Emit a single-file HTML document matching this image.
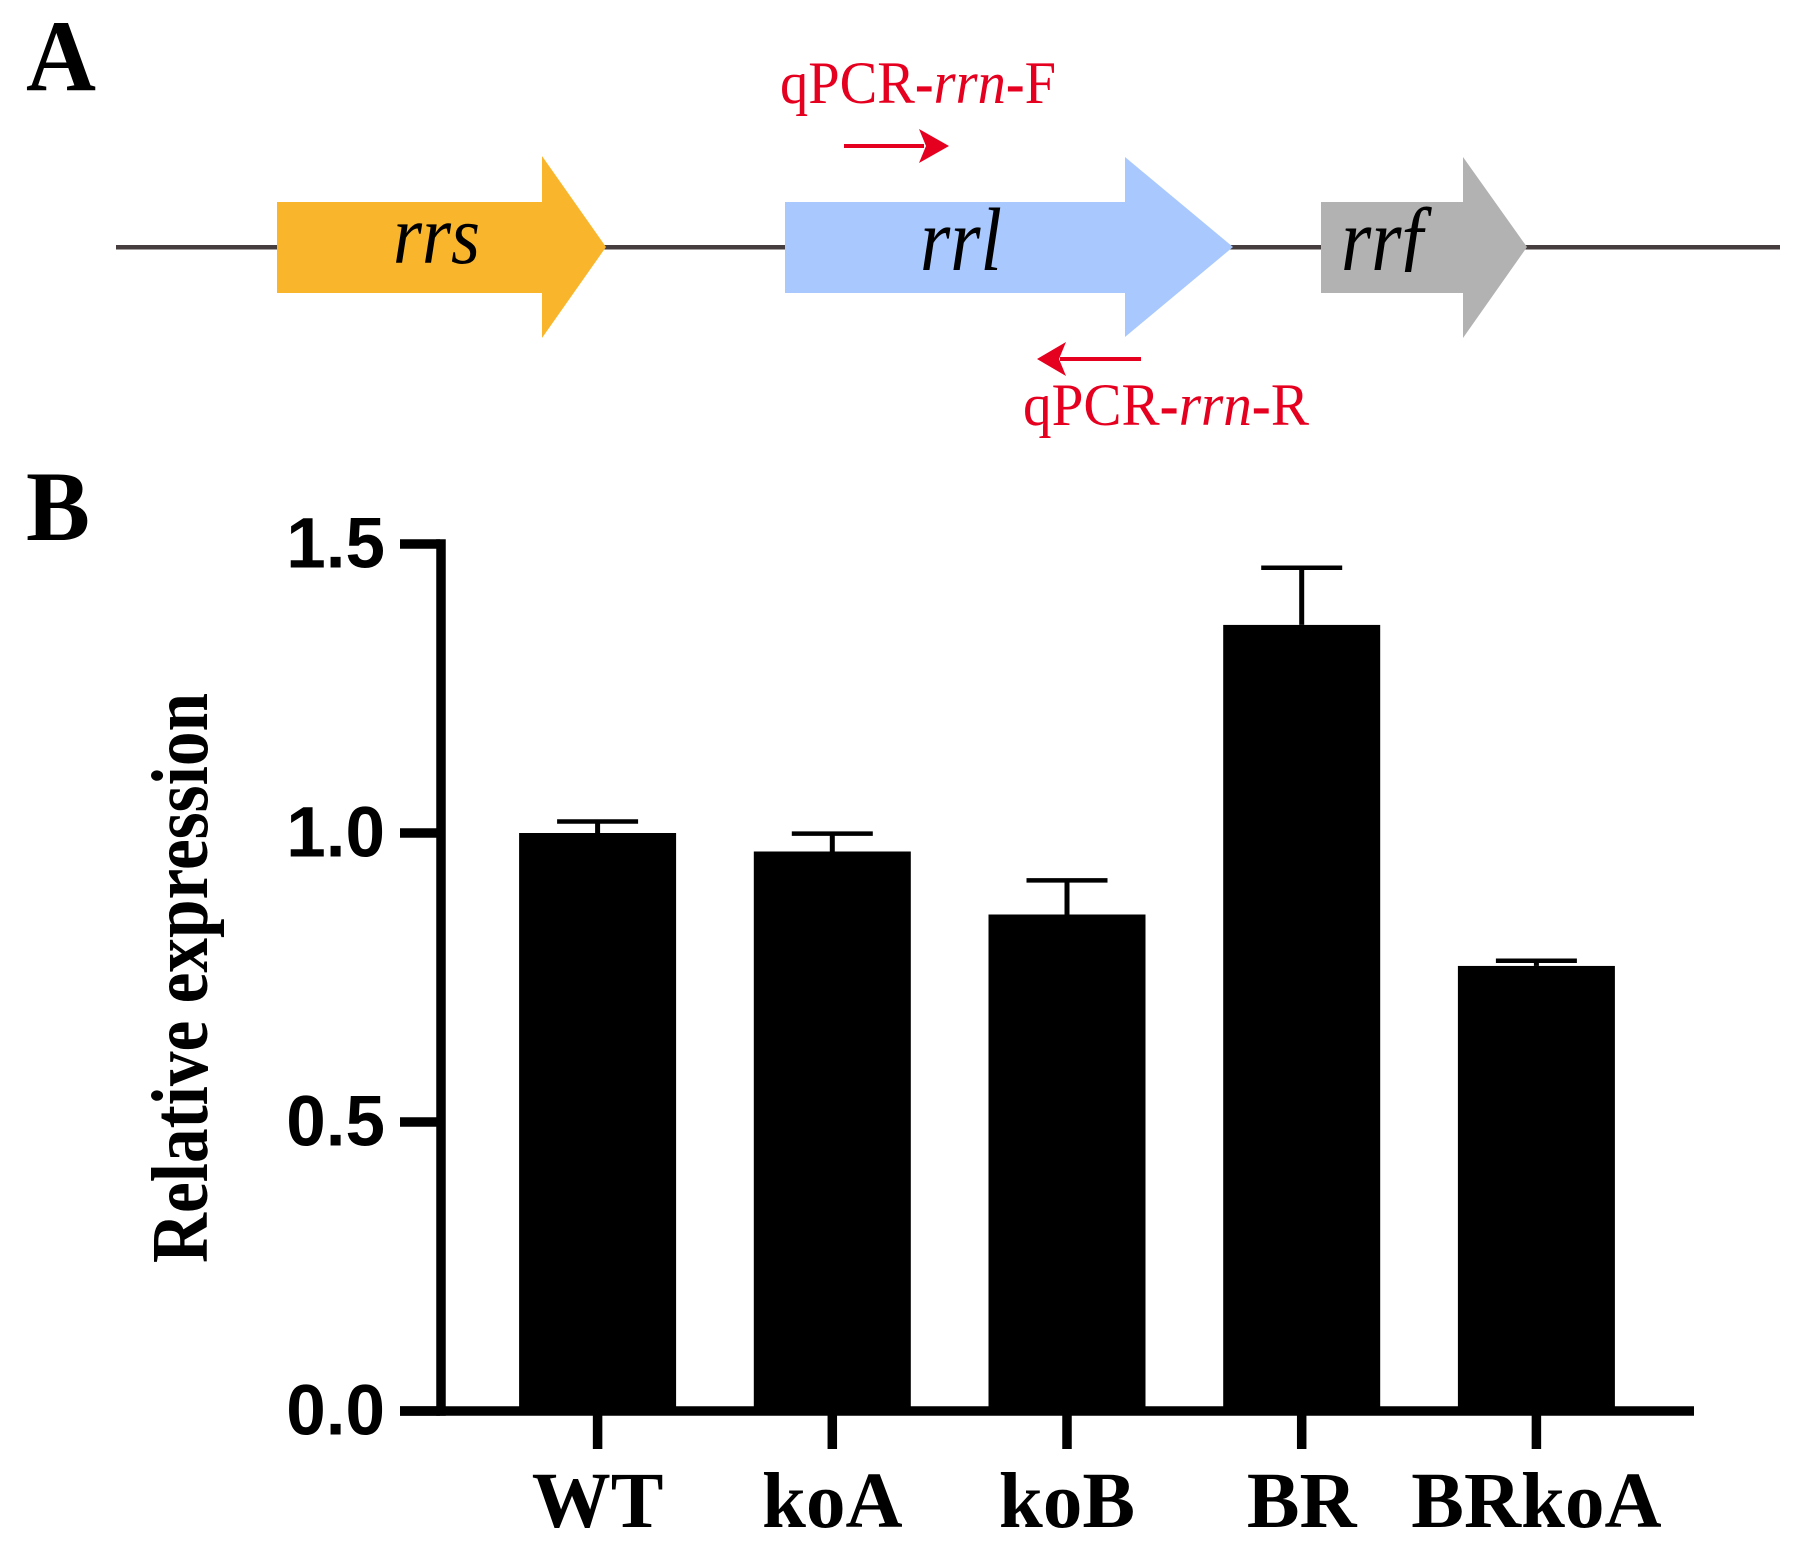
<!DOCTYPE html>
<html lang="en">
<head>
<meta charset="utf-8">
<title>rrn operon map and relative expression</title>
<style>
html,body{margin:0;padding:0;background:#fff;}
svg{display:block;}
.serif{font-family:"Liberation Serif",serif;}
.sans{font-family:"Liberation Sans",sans-serif;}
</style>
</head>
<body>
<svg id="figure" xmlns="http://www.w3.org/2000/svg" width="1805" height="1555" viewBox="0 0 1805 1555">
  <defs>
    <clipPath id="rrf-clip"><rect x="1330" y="190" width="130" height="82"/></clipPath>
  </defs>
  <rect x="0" y="0" width="1805" height="1555" fill="#ffffff"/>

  <text class="serif" x="26" y="90" font-size="102" font-weight="bold" fill="#000" textLength="70" lengthAdjust="spacingAndGlyphs">A</text>
  <text class="serif" x="26" y="540" font-size="100" font-weight="bold" fill="#000" textLength="64" lengthAdjust="spacingAndGlyphs">B</text>

  <g>
    <rect x="116" y="245" width="1664" height="4.5" fill="#463e3e"/>

    <polygon fill="#F9B62C" points="277,202 542,202 542,156 606,247 542,338 542,293 277,293"/>
    <polygon fill="#A9C9FE" points="785,202 1125,202 1125,157 1233,247 1125,337 1125,293 785,293"/>
    <polygon fill="#B2B2B2" points="1321,202 1463,202 1463,157 1527,247 1463,338 1463,293 1321,293"/>

    <text class="serif" x="393" y="263" font-size="84" font-style="italic" fill="#000" textLength="87" lengthAdjust="spacingAndGlyphs">rrs</text>
    <text class="serif" x="920" y="270" font-size="90" font-style="italic" fill="#000" textLength="82" lengthAdjust="spacingAndGlyphs">rrl</text>
    <text class="serif" x="1341" y="270" font-size="90" font-style="italic" fill="#000" textLength="82" lengthAdjust="spacingAndGlyphs" clip-path="url(#rrf-clip)">rrf</text>

    <text class="serif" x="780" y="103" font-size="60" fill="#E60020" textLength="276" lengthAdjust="spacingAndGlyphs">qPCR<tspan font-weight="bold">-</tspan><tspan font-style="italic">rrn</tspan><tspan font-weight="bold">-</tspan>F</text>
    <rect x="844" y="144" width="80" height="4" fill="#E60020"/>
    <polygon fill="#E60020" points="949,146 919,129 926,146 919,163"/>

    <text class="serif" x="1023" y="425" font-size="60" fill="#E60020" textLength="286" lengthAdjust="spacingAndGlyphs">qPCR<tspan font-weight="bold">-</tspan><tspan font-style="italic">rrn</tspan><tspan font-weight="bold">-</tspan>R</text>
    <rect x="1060" y="357" width="81" height="4" fill="#E60020"/>
    <polygon fill="#E60020" points="1037,359 1066,342 1059,359 1066,376"/>
  </g>

  <g id="chart"></g>
</svg>

<script>
var categories = ["WT", "koA", "koB", "BR", "BRkoA"];
var expressionValues = [1.0, 0.968, 0.859, 1.36, 0.77];
var errorValues = [0.02, 0.031, 0.059, 0.099, 0.009];
var yTickValues = [0, 0.5, 1.0, 1.5];
var yTickLabels = ["0.0", "0.5", "1.0", "1.5"];

var NS = "http://www.w3.org/2000/svg";
var chart = document.getElementById("chart");

var Y_ZERO = 1411;
var Y_PER_UNIT = 578;
var X_FIRST = 597.6;
var X_STEP = 234.7;
var BAR_WIDTH = 157;
var CAP_WIDTH = 81;

function yScale(v) { return Y_ZERO - v * Y_PER_UNIT; }
function xScale(i) { return X_FIRST + i * X_STEP; }

function make(tag, attrs) {
  var el = document.createElementNS(NS, tag);
  for (var k in attrs) { el.setAttribute(k, attrs[k]); }
  chart.appendChild(el);
  return el;
}

categories.forEach(function (name, i) {
  var cx = xScale(i);
  var top = yScale(expressionValues[i]);
  var capY = yScale(expressionValues[i] + errorValues[i]);

  var stem = make("line", { x1: cx, x2: cx, y1: top, y2: capY, stroke: "#000", "stroke-width": 5 });
  
  

  var cap = make("line", { x1: cx - CAP_WIDTH / 2, x2: cx + CAP_WIDTH / 2, y1: capY, y2: capY, stroke: "#000", "stroke-width": 4.5 });
  
  

  var bar = make("rect", { x: cx - BAR_WIDTH / 2, y: top, width: BAR_WIDTH, height: Y_ZERO - top, fill: "#000" });
  
  

  var tick = make("line", { x1: cx, x2: cx, y1: Y_ZERO, y2: 1449, stroke: "#000", "stroke-width": 9.5 });
  
  

  var label = make("text", { x: cx, y: 1527, "text-anchor": "middle", "font-size": 79, "font-weight": "bold", fill: "#000", "class": "serif" });
  label.textContent = name;
  
  
});

yTickValues.forEach(function (v, i) {
  var y = yScale(v);

  var tick = make("line", { x1: 400, x2: 440, y1: y, y2: y, stroke: "#000", "stroke-width": 9.5 });
  
  

  var label = make("text", { x: 385, y: y + 23.5, "text-anchor": "end", "font-size": 71, "font-weight": "bold", fill: "#000", "class": "sans" });
  label.textContent = yTickLabels[i];
  
  
});

var yAxis = make("line", { x1: 441, x2: 441, y1: yScale(1.5) - 4.75, y2: Y_ZERO + 4.75, stroke: "#000", "stroke-width": 9.5 });



var xAxis = make("line", { x1: 400, x2: 1701 - 7, y1: Y_ZERO, y2: Y_ZERO, stroke: "#000", "stroke-width": 9.5 });



var yTitle = make("text", { transform: "translate(207 1263) rotate(-90)", x: 0, y: 0, "font-size": 80, "font-weight": "bold", fill: "#000", "class": "serif", textLength: 570, lengthAdjust: "spacingAndGlyphs" });
yTitle.textContent = "Relative expression";


</script>
</body>
</html>
